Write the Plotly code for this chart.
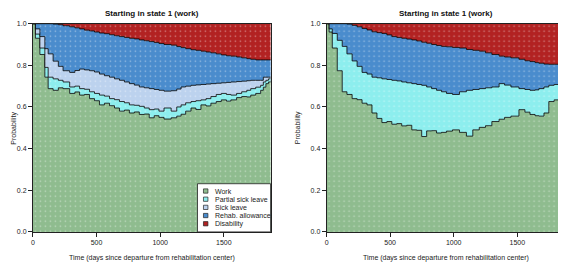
import plotly.graph_objects as go

# ---------------- data ----------------
states = ["Work", "Partial sick leave", "Sick leave", "Rehab. allowance", "Disability"]
panel_title = "Starting in state 1 (work)"
x_title = "Time (days since departure from rehabilitation center)"
y_title = "Probability"
x_ticks = [0, 500, 1000, 1500]
y_ticks = [0.0, 0.2, 0.4, 0.6, 0.8, 1.0]

# Left panel: cumulative upper boundaries of each state
t_left = [0, 20, 55, 94, 120, 159, 200, 237, 289, 330, 367, 405, 445, 484, 523, 562,
          602, 641, 680, 719, 758, 797, 836, 875, 914, 953, 990, 1030, 1086, 1130, 1164,
          1200, 1242, 1280, 1320, 1360, 1398, 1440, 1480, 1520, 1555, 1600, 1640, 1680,
          1711, 1750, 1789, 1810, 1830, 1850, 1870]
left_work = [1.0, 0.93, 0.852, 0.743, 0.688, 0.68, 0.692, 0.688, 0.665, 0.672, 0.657, 0.66,
             0.64, 0.63, 0.61, 0.618, 0.606, 0.595, 0.58, 0.585, 0.571, 0.576, 0.564, 0.566,
             0.548, 0.558, 0.55, 0.542, 0.548, 0.556, 0.565, 0.58, 0.595, 0.588, 0.61, 0.605,
             0.618, 0.626, 0.634, 0.628, 0.634, 0.645, 0.65, 0.648, 0.657, 0.665, 0.68, 0.695,
             0.712, 0.72, 0.728]
left_partial = [1.0, 0.95, 0.883, 0.79, 0.743, 0.735, 0.728, 0.72, 0.696, 0.70, 0.688, 0.685,
                0.673, 0.665, 0.657, 0.652, 0.64, 0.635, 0.626, 0.62, 0.61, 0.608, 0.603, 0.595,
                0.587, 0.59, 0.58, 0.595, 0.58, 0.6, 0.61, 0.62, 0.626, 0.63, 0.634, 0.64, 0.65,
                0.66, 0.665, 0.66, 0.657, 0.665, 0.673, 0.68, 0.688, 0.695, 0.704, 0.72, 0.728,
                0.735, 0.735]
left_sick = [1.0, 0.975, 0.938, 0.88, 0.855, 0.82, 0.795, 0.774, 0.766, 0.775, 0.782, 0.778,
             0.774, 0.768, 0.758, 0.75, 0.743, 0.735, 0.728, 0.72, 0.712, 0.705, 0.696, 0.692,
             0.688, 0.684, 0.68, 0.676, 0.678, 0.686, 0.696, 0.70, 0.704, 0.706, 0.708, 0.71,
             0.712, 0.714, 0.716, 0.718, 0.72, 0.722, 0.724, 0.726, 0.728, 0.728, 0.728, 0.743,
             0.743, 0.743, 0.743]
left_rehab = [1.0, 1.0, 1.0, 1.0, 1.0, 0.998, 0.995, 0.99, 0.985, 0.98, 0.975, 0.969, 0.965,
              0.96, 0.955, 0.952, 0.947, 0.942, 0.938, 0.934, 0.93, 0.927, 0.922, 0.918, 0.914,
              0.91, 0.905, 0.9, 0.897, 0.89, 0.885, 0.88, 0.875, 0.872, 0.868, 0.864, 0.86,
              0.855, 0.85, 0.846, 0.844, 0.84, 0.836, 0.832, 0.829, 0.826, 0.826, 0.826, 0.826,
              0.826, 0.826]
left_total = [1.0] * len(t_left)

# Right panel (no sick-leave layer visible)
t_right = [0, 20, 45, 84, 123, 160, 201, 240, 279, 318, 357, 396, 435, 474, 513, 552, 591,
           630, 670, 709, 748, 787, 826, 865, 904, 943, 990, 1045, 1100, 1150, 1201, 1250,
           1300, 1357, 1400, 1450, 1513, 1560, 1600, 1640, 1670, 1710, 1748, 1790, 1826,
           1850, 1873]
right_work = [1.0, 0.96, 0.883, 0.774, 0.673, 0.66, 0.64, 0.635, 0.618, 0.61, 0.571, 0.545,
              0.525, 0.53, 0.517, 0.52, 0.509, 0.512, 0.49, 0.488, 0.458, 0.485, 0.486, 0.475,
              0.478, 0.484, 0.49, 0.478, 0.46, 0.49, 0.502, 0.51, 0.53, 0.541, 0.55, 0.556,
              0.587, 0.575, 0.564, 0.558, 0.556, 0.571, 0.626, 0.634, 0.65, 0.665, 0.688]
right_partial = [1.0, 0.975, 0.953, 0.92, 0.891, 0.855, 0.821, 0.795, 0.766, 0.758, 0.743,
                 0.74, 0.735, 0.732, 0.728, 0.725, 0.72, 0.716, 0.712, 0.708, 0.704, 0.696,
                 0.688, 0.68, 0.673, 0.665, 0.66, 0.673, 0.68, 0.684, 0.688, 0.692, 0.696,
                 0.712, 0.705, 0.696, 0.688, 0.684, 0.68, 0.682, 0.688, 0.696, 0.704, 0.708,
                 0.712, 0.716, 0.72]
right_rehab = [1.0, 1.0, 1.0, 1.0, 1.0, 0.998, 0.992, 0.985, 0.977, 0.97, 0.961, 0.957,
               0.953, 0.946, 0.938, 0.934, 0.93, 0.926, 0.922, 0.917, 0.911, 0.906, 0.9,
               0.895, 0.891, 0.889, 0.886, 0.883, 0.876, 0.872, 0.868, 0.86, 0.852, 0.844,
               0.84, 0.836, 0.829, 0.822, 0.818, 0.813, 0.81, 0.806, 0.805, 0.805, 0.805,
               0.805, 0.805]
right_total = [1.0] * len(t_right)

colors = ["#8fbc8f", "#8deeee", "#bcd2ee", "#4a8ccd", "#b22222"]

# ---------------- figure ----------------
# The page body has an 8px margin, so the figure is laid out in window
# pixel coordinates shifted by that offset.
OFF = 8
W, H = 566 - OFF, 267 - OFF
def px(x):
    return (x - OFF) / W
def py(y):
    return 1 - (y - OFF) / H

fig = go.Figure()

def add_panel(t, bounds, cols, xa, ya):
    for i, (yv, c) in enumerate(zip(bounds, cols)):
        last = i == len(bounds) - 1
        fig.add_trace(go.Scatter(
            x=t, y=yv, xaxis=xa, yaxis=ya, mode="lines",
            line=dict(color="black", width=0 if last else 0.8, shape="hv"),
            fill="tozeroy" if i == 0 else "tonexty",
            fillcolor=c,
            fillpattern=dict(shape=".", bgcolor=c, fgcolor="rgba(255,255,255,0.45)",
                             size=5, solidity=0.08, fillmode="replace"),
            showlegend=False, hoverinfo="skip"))

add_panel(t_left, [left_work, left_partial, left_sick, left_rehab, left_total],
          colors, "x", "y")
add_panel(t_right, [right_work, right_partial, right_rehab, right_total],
          [colors[0], colors[1], colors[3], colors[4]], "x2", "y2")

font = "Liberation Sans, Arial, sans-serif"
ydom = [py(234), py(20)]
axis_common = dict(showgrid=False, zeroline=False, showline=True, mirror=True,
                   linecolor="#222", linewidth=0.8, ticks="outside", ticklen=4,
                   tickwidth=0.8, tickcolor="#222",
                   tickfont=dict(family=font, size=7, color="#222"))
fig.update_layout(
    xaxis=dict(domain=[px(31), px(270)], range=[0, 1867], tickvals=x_ticks,
               anchor="y", **axis_common),
    yaxis=dict(domain=ydom, range=[0, 1], tickvals=y_ticks,
               ticktext=[f"{v:.1f}" for v in y_ticks], anchor="x", **axis_common),
    xaxis2=dict(domain=[px(326.3), min(1.0, px(565.7))], range=[0, 1873], tickvals=x_ticks,
                anchor="y2", **axis_common),
    yaxis2=dict(domain=ydom, range=[0, 1], tickvals=y_ticks,
                ticktext=[f"{v:.1f}" for v in y_ticks], anchor="x2", **axis_common),
)

ann = []
for cx in (150.5, 446):
    ann.append(dict(text=f"<b>{panel_title}</b>", x=px(cx), y=py(9.5), xref="paper",
                    yref="paper", showarrow=False, xanchor="center", yanchor="middle",
                    font=dict(family=font, size=8, color="#111")))
    ann.append(dict(text=x_title, x=px(cx), y=py(261), xref="paper", yref="paper",
                    showarrow=False, xanchor="center", yanchor="middle",
                    font=dict(family=font, size=7, color="#222")))
for cx in (12, 297):
    ann.append(dict(text=y_title, x=px(cx), y=py(127), xref="paper", yref="paper",
                    showarrow=False, xanchor="center", yanchor="middle", textangle=-90,
                    font=dict(family=font, size=7, color="#222")))

# legend (left panel, bottom right)
shapes = [dict(type="rect", xref="paper", yref="paper", x0=px(196.5), x1=px(270),
               y0=py(234), y1=py(184.5), line=dict(color="#222", width=0.8),
               fillcolor="white", layer="above")]
row_y = [192, 200.4, 208.8, 217.2, 225.6]
for name, c, ry in zip(states, colors, row_y):
    shapes.append(dict(type="rect", xref="paper", yref="paper", x0=px(202.5), x1=px(207),
                       y0=py(ry + 2.2), y1=py(ry - 2.2), line=dict(color="#222", width=0.7),
                       fillcolor=c, layer="above"))
    ann.append(dict(text=name, x=px(212.5), y=py(ry), xref="paper", yref="paper",
                    showarrow=False, xanchor="left", yanchor="middle",
                    font=dict(family=font, size=7, color="#222")))

fig.update_layout(width=W, height=H, autosize=False,
                  margin=dict(l=0, r=0, t=0, b=0),
                  paper_bgcolor="white", plot_bgcolor="white",
                  annotations=ann, shapes=shapes, showlegend=False)

fig.write_html("out.html")
